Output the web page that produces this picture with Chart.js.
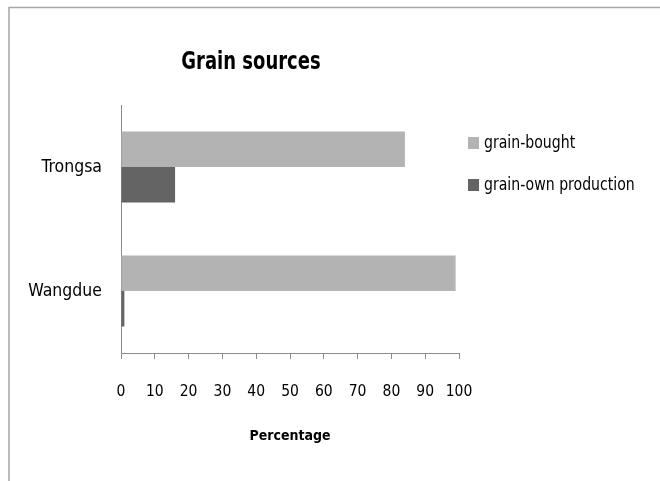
<!DOCTYPE html>
<html><head><meta charset="utf-8">
<script src="https://cdn.jsdelivr.net/npm/chart.js@4"></script>
<style>html,body{margin:0;padding:0;background:#fff}#wrap{width:660px;height:481px;position:relative}</style>
</head><body><div id="wrap"><canvas id="c" width="660" height="481"></canvas></div>
<script>
const categories = ['Trongsa', 'Wangdue'];
const grainBought = [84, 99];
const grainOwn = [16, 1];
const seriesNames = ['grain-bought', 'grain-own production'];
const xTicks = [0, 10, 20, 30, 40, 50, 60, 70, 80, 90, 100];
const FONT = "'DejaVu Sans Condensed', 'Liberation Sans', sans-serif";

function squeezedText(ctx, text, x, y, sx, align) {
  ctx.save();
  ctx.translate(x, y);
  ctx.scale(sx, 1);
  ctx.textAlign = align;
  ctx.fillText(text, 0, 0);
  ctx.restore();
}

const framePlugin = {
  id: 'frame',
  beforeDraw(chart) {
    const ctx = chart.ctx;
    ctx.save();
    ctx.strokeStyle = '#a6a6a6';
    ctx.lineWidth = 1.5;
    ctx.beginPath();
    ctx.moveTo(9, 481); ctx.lineTo(9, 7.5); ctx.lineTo(660, 7.5);
    ctx.stroke();
    ctx.restore();
  },
  afterDraw(chart) {
    const ctx = chart.ctx;
    ctx.save();
    ctx.fillStyle = '#000';
    ctx.textBaseline = 'middle';
    ctx.font = "bold 25px " + FONT;
    squeezedText(ctx, 'Grain sources', 251, 62, 0.8, 'center');
    const ds = chart.data.datasets;
    ctx.font = "18px " + FONT;
    ds.forEach((d, i) => {
      const y = 143 + i * 42;
      ctx.fillStyle = d.backgroundColor;
      ctx.fillRect(468, y - 6, 11, 12);
      ctx.fillStyle = '#000';
      squeezedText(ctx, d.label, 484, y, 0.87, 'left');
    });
    ctx.restore();
  }
};

new Chart(document.getElementById('c'), {
  type: 'bar',
  data: {
    labels: categories,
    datasets: [
      { label: seriesNames[0], data: grainBought, backgroundColor: '#b3b3b3' },
      { label: seriesNames[1], data: grainOwn, backgroundColor: '#646464' }
    ]
  },
  options: {
    indexAxis: 'y',
    responsive: false,
    animation: false,
    categoryPercentage: 0.573,
    barPercentage: 1,
    layout: { padding: { left: 0, right: 201, top: 105, bottom: 0 } },
    plugins: { legend: { display: false }, title: { display: false }, tooltip: { enabled: false } },
    scales: {
      x: {
        min: 0, max: 100,
        afterBuildTicks(scale) { scale.ticks = xTicks.map(v => ({ value: v })); },
        afterFit(scale) { scale.height = 128; },
        grid: { drawOnChartArea: false, drawTicks: true, tickLength: 6, color: '#8c8c8c' },
        border: { color: '#8c8c8c', width: 1 },
        ticks: { color: '#000', padding: 24, maxRotation: 0, autoSkip: false, font: { family: FONT, size: 15.5 } },
        title: { display: true, text: 'Percentage', color: '#000', font: { family: FONT, size: 14, weight: 'bold' }, padding: { top: 4, bottom: 36 } }
      },
      y: {
        afterFit(scale) { scale.width = 121; },
        grid: { display: false, drawTicks: false },
        border: { color: '#8c8c8c', width: 1 },
        ticks: { color: '#000', padding: 19, font: { family: FONT, size: 17.5 } }
      }
    }
  },
  plugins: [framePlugin]
});
</script></body></html>
